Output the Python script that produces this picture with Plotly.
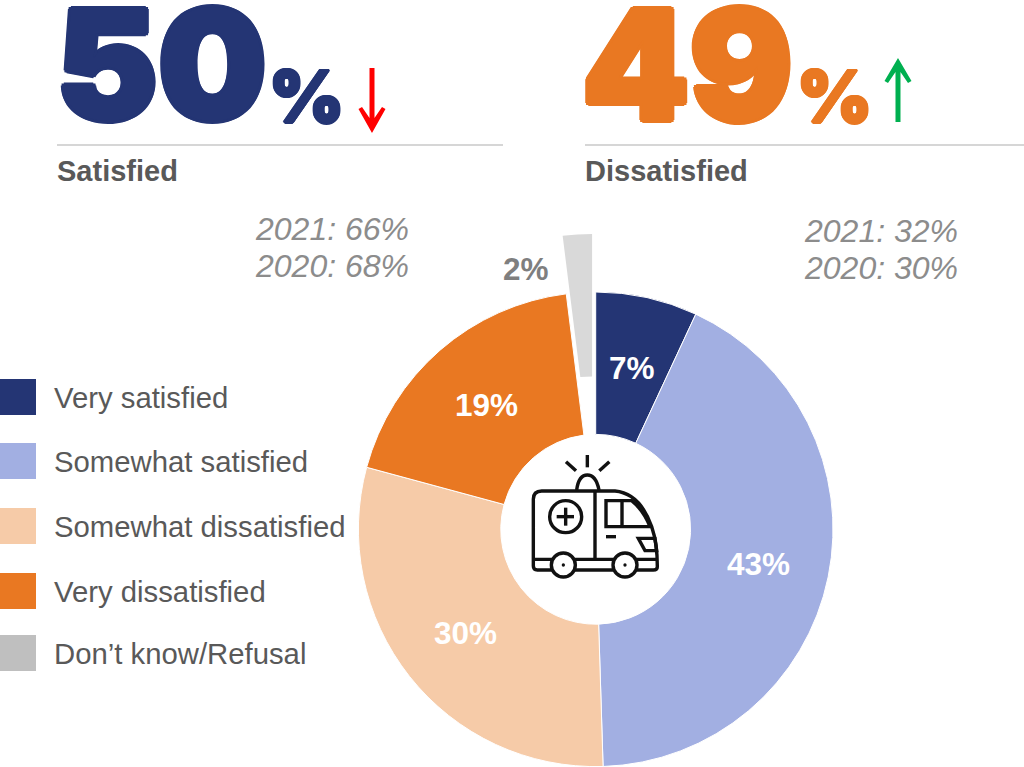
import math
import plotly.graph_objects as go

W, H = 1024, 767

# ---- data ----
categories = ["Very satisfied", "Somewhat satisfied", "Somewhat dissatisfied", "Very dissatisfied", "Don\u2019t know/Refusal"]
values = [7, 43, 30, 19, 2]
colors = ["#243574", "#A2AFE2", "#F6CBA8", "#E97822", "#D9D9D9"]
legend_colors = ["#243574", "#A2AFE2", "#F6CBA8", "#E97822", "#BFBFBF"]
headline_values = ["50", "49"]
headline_labels = ["Satisfied", "Dissatisfied"]
history_left = ["2021: 66%", "2020: 68%"]
history_right = ["2021: 32%", "2020: 30%"]

FONT = "Liberation Sans, Arial, sans-serif"
BIG = "Inter, Liberation Sans, sans-serif"
NAVY, ORANGE = colors[0], colors[3]
GREY = "#595959"
ITALIC = "#8C8C8C"
INK = "#111111"


def px(x):
    return x / W


def py(y):
    return 1 - y / H


CX, CY, R = 595.7, 529.3, 237.3
HOLE = 0.4
PULL_X, PULL_Y = -3.6, 58.0


def dom(cx, cy):
    return dict(x=[px(cx - R), px(cx + R)], y=[py(cy + R), py(cy - R)])


fig = go.Figure()
fig.add_trace(go.Pie(
    labels=categories, values=values, sort=False, direction="clockwise", rotation=0,
    hole=HOLE, domain=dom(CX, CY),
    marker=dict(colors=colors[:4] + ["rgba(0,0,0,0)"],
                line=dict(color=["#FFFFFF"] * 4 + ["rgba(0,0,0,0)"], width=1)),
    textinfo="none", hoverinfo="label+percent", showlegend=False,
))
# The pulled-out slice, drawn from the same values on a shifted domain
fig.add_trace(go.Pie(
    labels=categories, values=values, sort=False, direction="clockwise", rotation=0,
    hole=HOLE, domain=dom(CX + PULL_X, CY - PULL_Y),
    marker=dict(colors=["rgba(0,0,0,0)"] * 4 + [colors[4]], line=dict(width=0)),
    textinfo="none", hoverinfo="skip", showlegend=False,
))

ann = []
shapes = []


def fat(color, d):
    """Text-shadow halo that thickens a glyph, standing in for a heavier typeface."""
    k = d * 0.72
    offs = [(d, 0), (-d, 0), (0, d), (0, -d), (k, k), (-k, k), (k, -k), (-k, -k)]
    return ", ".join(f"{a:.1f}px {b:.1f}px 0 {color}" for a, b in offs)


def text(x, y, s, size, color, family=FONT, weight="normal", style="normal", anchor="left", shadow=None):
    font = dict(family=family, size=size, color=color, weight=weight, style=style)
    if shadow:
        font["shadow"] = shadow
    ann.append(dict(xref="paper", yref="paper", x=px(x), y=py(y), text=s, showarrow=False,
                    xanchor=anchor, yanchor="middle", borderpad=0, font=font))


# headlines
text(54.5, 64, headline_values[0], 153, NAVY, BIG, 900, shadow=fat(NAVY, 3))
text(268, 96, "%", 72, NAVY, BIG, 900, shadow=fat(NAVY, 1.5))
text(580.5, 64, headline_values[1], 153, ORANGE, BIG, 900, shadow=fat(ORANGE, 3))
text(796, 96, "%", 72, ORANGE, BIG, 900, shadow=fat(ORANGE, 1.5))
text(55.5, 171, headline_labels[0], 29, GREY, weight="bold")
text(583.5, 171, headline_labels[1], 29, GREY, weight="bold")

# history
text(254, 229, history_left[0], 32, ITALIC, style="italic")
text(254, 266, history_left[1], 32, ITALIC, style="italic")
text(803, 231, history_right[0], 32, ITALIC, style="italic")
text(803, 268, history_right[1], 32, ITALIC, style="italic")
text(501.5, 269, f"{values[4]}%", 31.5, "#7F7F7F", weight="bold")

# slice labels at mid-ring, mid-angle of each slice
total = sum(values)
cum = 0
mid_r = R * (1 + HOLE) / 2
for v in values[:4]:
    a = 2 * math.pi * (cum + v / 2) / total
    cum += v
    text(CX + mid_r * math.sin(a), CY - mid_r * math.cos(a) + 1, f"{v}%", 31.5, "#FFFFFF",
         weight="bold", anchor="center")

# rules
for x0, x1 in [(57, 503), (585, 1024)]:
    shapes.append(dict(type="line", xref="paper", yref="paper", x0=px(x0), x1=px(x1),
                       y0=py(145), y1=py(145), line=dict(color="#C8C8C8", width=1.5)))

# legend
legend_y = [397, 461, 526, 591, 653]
for c, name, y in zip(legend_colors, categories, legend_y):
    shapes.append(dict(type="rect", xref="paper", yref="paper", x0=px(0), x1=px(36),
                       y0=py(y - 18), y1=py(y + 18), fillcolor=c, line=dict(width=0)))
    text(52.5, y + 0.8, name, 29.3, GREY)


def path(points, fill=None, width=3.4, color=INK, close=False):
    """points: list of (cmd, x, y ...) in pixels."""
    d = ""
    for p in points:
        cmd, *co = p
        d += cmd + " " + " ".join(
            f"{px(co[i]):.5f},{py(co[i + 1]):.5f}" for i in range(0, len(co), 2)) + " "
    if close:
        d += "Z"
    shapes.append(dict(type="path", xref="paper", yref="paper", path=d,
                       fillcolor=fill if fill else "rgba(0,0,0,0)",
                       line=dict(color=color, width=width) if width else dict(width=0)))


# arrows
RED, GREEN = "#FF0000", "#00B050"
path([("M", 369.5, 68), ("L", 374.5, 68), ("L", 374.5, 118), ("L", 382, 107), ("L", 385.5, 109),
      ("L", 372, 133), ("L", 358.5, 109), ("L", 362, 107), ("L", 369.5, 118)],
     fill=RED, width=0, close=True)
path([("M", 895.5, 122), ("L", 900.5, 122), ("L", 900.5, 72), ("L", 908, 83), ("L", 911.5, 81),
      ("L", 898, 58), ("L", 884.5, 81), ("L", 888, 83), ("L", 895.5, 72)],
     fill=GREEN, width=0, close=True)


# ambulance icon, coordinates taken from a 3x crop of the reference
def z(x, y):
    return 500 + x / 3, 430 + y / 3


def zp(*items, **kw):
    out = []
    for it in items:
        cmd, *co = it
        o = [cmd]
        for i in range(0, len(co), 2):
            o.extend(z(co[i], co[i + 1]))
        out.append(tuple(o))
    path(out, **kw)


def zcircle(cx, cy, r, fill="rgba(0,0,0,0)", width=3.4):
    x, y = z(cx, cy)
    rr = r / 3
    shapes.append(dict(type="circle", xref="paper", yref="paper", x0=px(x - rr), x1=px(x + rr),
                       y0=py(y + rr), y1=py(y - rr), fillcolor=fill,
                       line=dict(color=INK, width=width) if width else dict(width=0)))


zp(("M", 125, 183), ("L", 345, 183), ("Q", 420, 190, 455, 290), ("Q", 472, 340, 472, 410),
   ("Q", 472, 420, 460, 420), ("L", 112, 420), ("Q", 100, 420, 100, 408), ("L", 100, 208),
   ("Q", 100, 183, 125, 183), close=True)
zp(("M", 285, 183), ("L", 285, 388))
zp(("M", 100, 388), ("L", 472, 388))
zp(("M", 230, 180), ("Q", 236, 135, 262, 135), ("Q", 288, 135, 297, 180))
zp(("M", 262, 75), ("L", 262, 112))
zp(("M", 198, 95), ("L", 228, 122))
zp(("M", 328, 95), ("L", 298, 122))
zcircle(197, 260, 48)
zp(("M", 170, 260), ("L", 222, 260))
zp(("M", 197, 233), ("L", 197, 287))
zp(("M", 318, 212), ("L", 395, 212), ("Q", 430, 240, 450, 290), ("L", 318, 290), close=True)
zp(("M", 366, 212), ("L", 366, 290))
zp(("M", 318, 320), ("L", 348, 320))
zp(("M", 415, 325), ("L", 465, 325), ("L", 470, 362), ("L", 435, 362), close=True)
for cx in (190, 375):
    zcircle(cx, 405, 36, fill="#FFFFFF")
    zcircle(cx, 405, 5, fill=INK, width=0)

fig.update_layout(width=W, height=H, margin=dict(l=0, r=0, t=0, b=0), paper_bgcolor="#FFFFFF",
                  showlegend=False, annotations=ann, shapes=shapes)
fig.write_html("out.html", config={"displayModeBar": False},
               post_script="document.body.style.margin='0';")
